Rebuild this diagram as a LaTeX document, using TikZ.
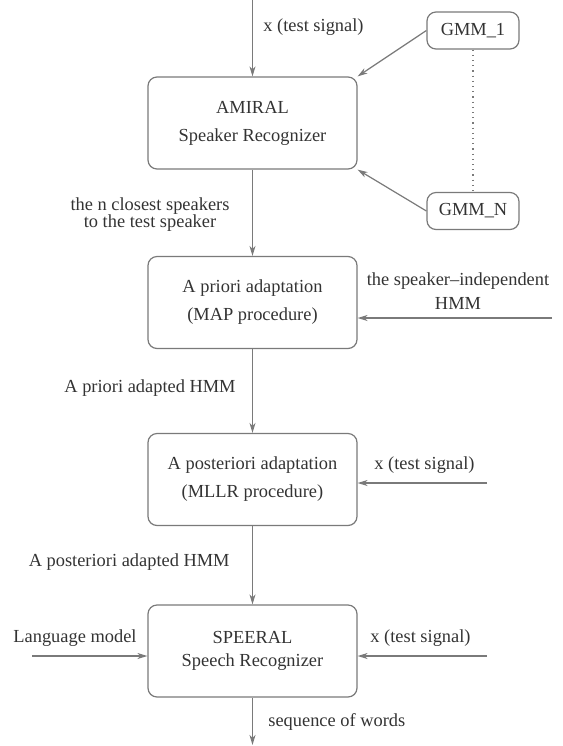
\documentclass[tikz,border=0pt]{standalone}
\usepackage{fontspec}
\setmainfont{Liberation Serif}
\usetikzlibrary{arrows.meta}
\definecolor{linegray}{HTML}{7A7A7A}
\definecolor{textgray}{HTML}{333333}
\newcommand{\diagfont}{\fontsize{9.2}{14}\selectfont}
\tikzset{
  stage/.style={draw=linegray, line width=0.6pt, rounded corners=4.5pt, minimum width=104.5pt,
    minimum height=46pt, align=center, text=textgray, font=\diagfont},
  model/.style={draw=linegray, line width=0.6pt, rounded corners=4.5pt, minimum width=46pt,
    minimum height=18.5pt, text=textgray, font=\diagfont},
  lbl/.style={text=textgray, font=\diagfont, inner sep=0pt},
  flow/.style={draw=linegray, line width=0.6pt, -{Stealth[length=5pt,width=3pt,inset=1.5pt]}}
}
\begin{document}
\begin{tikzpicture}[x=0.5pt,y=-0.5pt]
  \useasboundingbox (0,0) rectangle (563,746);

  % processing stages
  \node[stage] (amiral) at (252.5,123) {AMIRAL\\Speaker Recognizer};
  \node[stage] (apriori) at (252.5,302.5) {A priori adaptation\\(MAP procedure)};
  \node[stage] (aposteriori) at (252.5,479.5) {A posteriori adaptation\\(MLLR procedure)};
  \node[stage, font=\fontsize{9.2}{11.5}\selectfont] (speeral) at (252.5,651) {SPEERAL\\Speech Recognizer};

  % speaker models
  \node[model] (gmmone) at (473,30.5) {GMM\_1};
  \node[model] (gmmn) at (473,211) {GMM\_N};
  \draw[linegray, line width=0.6pt, dotted] (gmmone.south) -- (gmmn.north);

  % free ends of the inputs and the output
  \coordinate (xtop) at (252.5,0);
  \coordinate (hmmin) at (552,318);
  \coordinate (xmllr) at (487,483);
  \coordinate (xspeeral) at (487,656);
  \coordinate (lmin) at (32,656);
  \coordinate (wordsout) at (252.5,745);

  \draw[flow] (xtop) -- (amiral.north);
  \draw[flow] (gmmone.west) -- (amiral.north east);
  \draw[flow] (gmmn.west) -- (amiral.south east);
  \draw[flow] (amiral.south) -- (apriori.north);
  \draw[flow] (hmmin) -- (hmmin -| apriori.east);
  \draw[flow] (apriori.south) -- (aposteriori.north);
  \draw[flow] (xmllr) -- (xmllr -| aposteriori.east);
  \draw[flow] (aposteriori.south) -- (speeral.north);
  \draw[flow] (xspeeral) -- (xspeeral -| speeral.east);
  \draw[flow] (lmin) -- (lmin -| speeral.west);
  \draw[flow] (speeral.south) -- (wordsout);

  % labels
  \node[lbl, anchor=west] (xtoplbl) at (263,27) {x (test signal)};
  \node[lbl, align=center, font=\fontsize{9.2}{8.5}\selectfont] (closestlbl) at (150,215) {the n closest speakers\\to the test speaker};
  \node[lbl, align=center, font=\fontsize{9.2}{12}\selectfont] (hmmlbl) at (458,291) {the speaker–independent\\HMM};
  \node[lbl, anchor=east] (prioriout) at (236,388) {A priori adapted HMM};
  \node[lbl, anchor=west] (xmllrlbl) at (374,465) {x (test signal)};
  \node[lbl, anchor=east] (posterioriout) at (230,562) {A posteriori adapted HMM};
  \node[lbl, anchor=west] (lmlbl) at (13,638) {Language model};
  \node[lbl, anchor=west] (xspeerallbl) at (370,638) {x (test signal)};
  \node[lbl, anchor=west] (wordslbl) at (268,722) {sequence of words};
\end{tikzpicture}
\end{document}
